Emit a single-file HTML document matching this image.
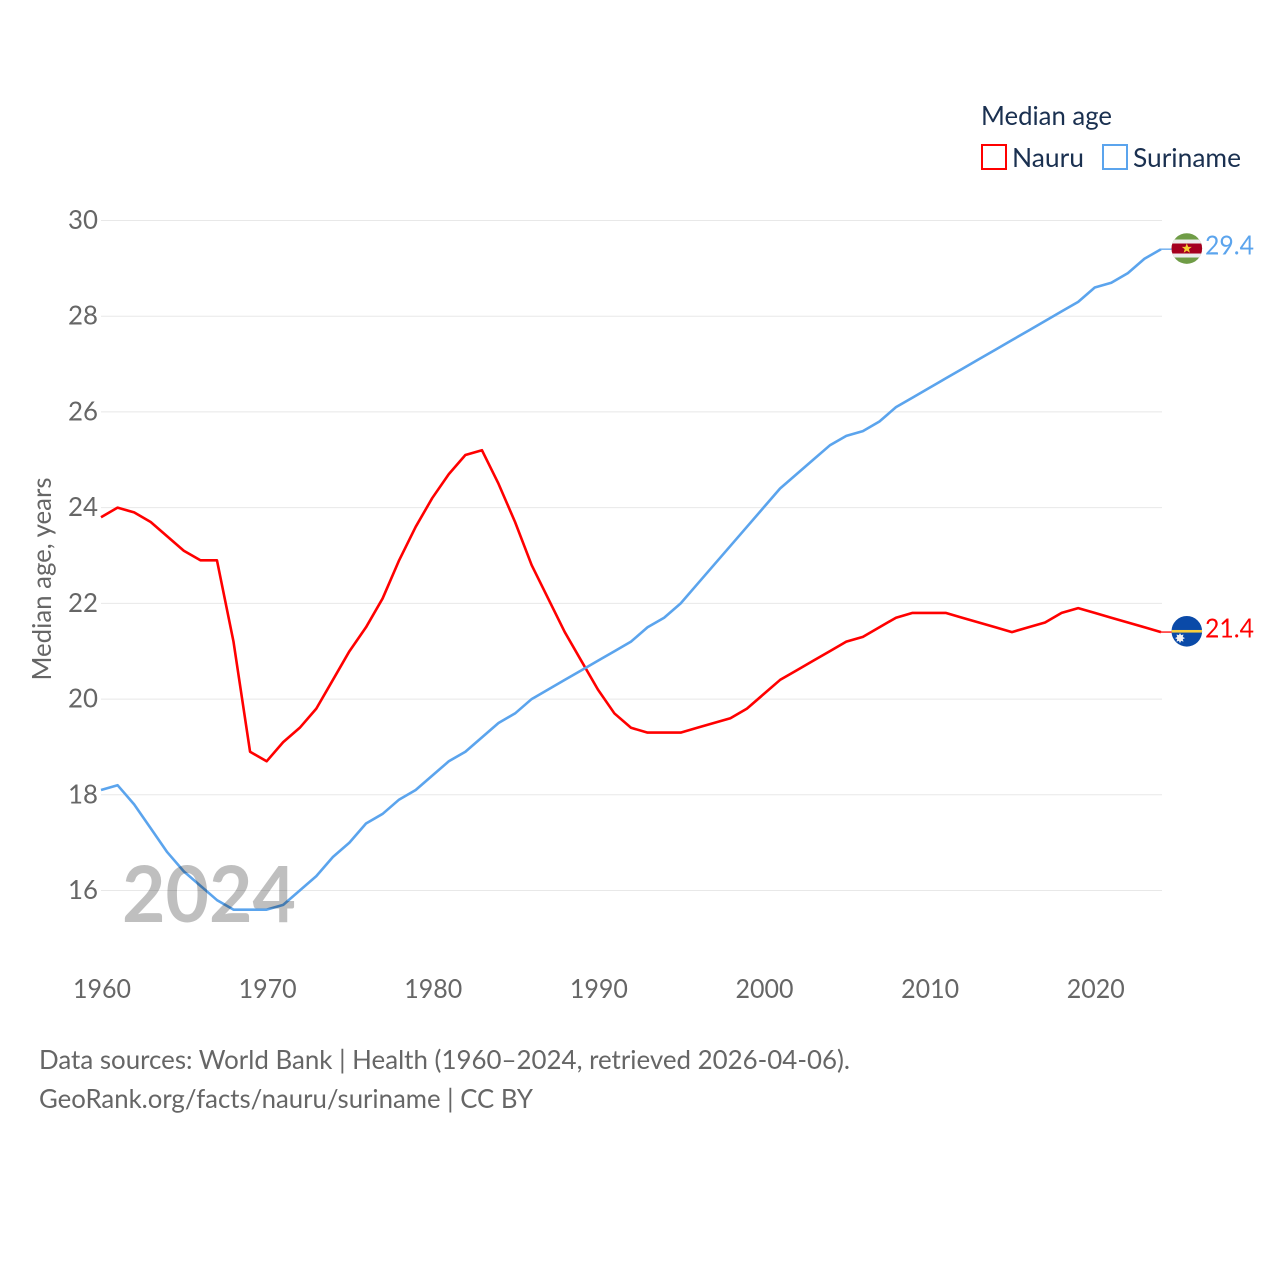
<!DOCTYPE html>
<html lang="en">
<head>
<meta charset="utf-8">
<title>Median age: Nauru and Suriname</title>
<style>
html,body{margin:0;padding:0;background:#fff;width:1280px;height:1280px;overflow:hidden}
svg{display:block}
text{font-family:"Lato","Carlito","Liberation Sans",sans-serif}
</style>
</head>
<body>
<svg id="chart" xmlns="http://www.w3.org/2000/svg" width="1280" height="1280" viewBox="0 0 1280 1280">
  <rect width="1280" height="1280" fill="#fff"/>
  <g id="grid"></g>
  <g id="yticks"></g>
  <g id="xticks"></g>
  <text transform="translate(51,579) rotate(-90)" text-anchor="middle" font-size="26" fill="#666" textLength="203" lengthAdjust="spacingAndGlyphs">Median age, years</text>
  <g id="series"></g>
  <text x="122" y="922" font-size="78" font-weight="700" fill="#000" fill-opacity="0.25" textLength="174" lengthAdjust="spacingAndGlyphs">2024</text>
  <g id="endmarks"></g>

  <g>
    <text x="981" y="125" font-size="26" fill="#1a3050" textLength="131" lengthAdjust="spacingAndGlyphs">Median age</text>
    <g>
      <rect x="982" y="145" width="24" height="24" fill="#fff" stroke="#ff0000" stroke-width="2"/>
      <text x="1012" y="167" font-size="26" fill="#1a3050" textLength="72" lengthAdjust="spacingAndGlyphs">Nauru</text>
    </g>
    <g>
      <rect x="1103" y="145" width="24" height="24" fill="#fff" stroke="#5ba4ed" stroke-width="2"/>
      <text x="1133" y="167" font-size="26" fill="#1a3050" textLength="108" lengthAdjust="spacingAndGlyphs">Suriname</text>
    </g>
  </g>

  <text x="39" y="1069" font-size="26" fill="#666" textLength="811" lengthAdjust="spacingAndGlyphs">Data sources: World Bank | Health (1960–2024, retrieved 2026-04-06).</text>
  <text x="39" y="1108" font-size="26" fill="#666" textLength="494" lengthAdjust="spacingAndGlyphs">GeoRank.org/facts/nauru/suriname | CC BY</text>
</svg>
<script>
const years = [1960,1961,1962,1963,1964,1965,1966,1967,1968,1969,1970,1971,1972,1973,1974,1975,1976,1977,1978,1979,1980,1981,1982,1983,1984,1985,1986,1987,1988,1989,1990,1991,1992,1993,1994,1995,1996,1997,1998,1999,2000,2001,2002,2003,2004,2005,2006,2007,2008,2009,2010,2011,2012,2013,2014,2015,2016,2017,2018,2019,2020,2021,2022,2023,2024];
const nauru = [23.8,24.0,23.9,23.7,23.4,23.1,22.9,22.9,21.2,18.9,18.7,19.1,19.4,19.8,20.4,21.0,21.5,22.1,22.9,23.6,24.2,24.7,25.1,25.2,24.5,23.7,22.8,22.1,21.4,20.8,20.2,19.7,19.4,19.3,19.3,19.3,19.4,19.5,19.6,19.8,20.1,20.4,20.6,20.8,21.0,21.2,21.3,21.5,21.7,21.8,21.8,21.8,21.7,21.6,21.5,21.4,21.5,21.6,21.8,21.9,21.8,21.7,21.6,21.5,21.4];
const suriname = [18.1,18.2,17.8,17.3,16.8,16.4,16.1,15.8,15.6,15.6,15.6,15.7,16.0,16.3,16.7,17.0,17.4,17.6,17.9,18.1,18.4,18.7,18.9,19.2,19.5,19.7,20.0,20.2,20.4,20.6,20.8,21.0,21.2,21.5,21.7,22.0,22.4,22.8,23.2,23.6,24.0,24.4,24.7,25.0,25.3,25.5,25.6,25.8,26.1,26.3,26.5,26.7,26.9,27.1,27.3,27.5,27.7,27.9,28.1,28.3,28.6,28.7,28.9,29.2,29.4];
const yTickValues = [16,18,20,22,24,26,28,30];
const xTickValues = [1960,1970,1980,1990,2000,2010,2020];

const NS = 'http://www.w3.org/2000/svg';
const RED = '#ff0000';
const BLUE = '#5ba4ed';

function xScale(year) { return 101 + (year - 1960) * (1161 - 101) / (2024 - 1960); }
function yScale(value) { return 890.5 - (value - 16) * (890.5 - 220.5) / (30 - 16); }
function make(tag, attrs, parent) {
  const el = document.createElementNS(NS, tag);
  for (const k in attrs) el.setAttribute(k, attrs[k]);
  parent.appendChild(el);
  return el;
}

const gridGroup = document.getElementById('grid');
const yGroup = document.getElementById('yticks');
const xGroup = document.getElementById('xticks');
const seriesGroup = document.getElementById('series');
const endGroup = document.getElementById('endmarks');

yTickValues.forEach(function (v) {
  const line = make('line', {x1: 101, x2: 1162, y1: yScale(v), y2: yScale(v), stroke: '#e8e8e8', 'stroke-width': 1}, gridGroup);
  
  
  const label = make('text', {x: 98, y: yScale(v) + 8.5, 'text-anchor': 'end', 'font-size': 26, fill: '#666', textLength: 30, lengthAdjust: 'spacingAndGlyphs'}, yGroup);
  label.textContent = String(v);
  
  
});

xTickValues.forEach(function (v) {
  const label = make('text', {x: xScale(v) + 1, y: 998, 'text-anchor': 'middle', 'font-size': 26, fill: '#666', textLength: 58, lengthAdjust: 'spacingAndGlyphs'}, xGroup);
  label.textContent = String(v);
  
  
});

function linePath(values) {
  return values.map(function (v, i) {
    return (i ? 'L' : 'M') + xScale(years[i]).toFixed(2) + ' ' + yScale(v).toFixed(2);
  }).join(' ');
}

const nauruLine = make('path', {d: linePath(nauru), fill: 'none', stroke: RED, 'stroke-width': 2.6, 'stroke-linejoin': 'round'}, seriesGroup);


const surinameLine = make('path', {d: linePath(suriname), fill: 'none', stroke: BLUE, 'stroke-width': 2.6, 'stroke-linejoin': 'round'}, seriesGroup);



function endConnector(y, color) {
  const c = make('line', {x1: 1161, x2: 1172, y1: y, y2: y, stroke: color, 'stroke-width': 1.6, 'stroke-opacity': 0.8}, endGroup);
  return c;
}
function endText(y, color, value) {
  const t = make('text', {x: 1205, y: y + 8, 'font-size': 26, fill: color, textLength: 49, lengthAdjust: 'spacingAndGlyphs'}, endGroup);
  t.textContent = value.toFixed(1);
  return t;
}

/* Suriname end marker */
const sLast = suriname[suriname.length - 1];
const sy = yScale(sLast);
const sConn = endConnector(sy, BLUE);


const sFlag = make('g', {transform: 'translate(1186.8,' + (sy - 0.7) + ')'}, endGroup);


const sClip = make('clipPath', {id: 'suriname-clip'}, sFlag);
make('circle', {r: 15.3, cx: 0, cy: 0}, sClip);
const sBands = make('g', {'clip-path': 'url(#suriname-clip)'}, sFlag);
make('rect', {x: -16, y: -16, width: 32, height: 32, fill: '#6f9c46'}, sBands);
make('rect', {x: -16, y: -9, width: 32, height: 18, fill: '#ececec'}, sBands);
make('rect', {x: -16, y: -5, width: 32, height: 10, fill: '#a5001f'}, sBands);
make('polygon', {points: '0,-5 1.4,-1.6 5,-1.6 2.1,0.6 3.1,4.2 0,2.1 -3.1,4.2 -2.1,0.6 -5,-1.6 -1.4,-1.6', fill: '#f5d033'}, sFlag);
const sText = endText(sy - 2.5, BLUE, sLast);



/* Nauru end marker */
const nLast = nauru[nauru.length - 1];
const ny = yScale(nLast);
const nConn = endConnector(ny, RED);


const nFlag = make('g', {transform: 'translate(1186.8,' + (ny - 0.8) + ')'}, endGroup);


make('circle', {r: 15.3, cx: 0, cy: 0, fill: '#0a4aa8'}, nFlag);
make('rect', {x: -15.2, y: -1.3, width: 30.4, height: 2.6, fill: '#f7cf3f'}, nFlag);
make('polygon', {points: '-6.8,1.7 -5.7,3.9 -3.3,3.2 -4,5.7 -1.8,6.8 -4,7.9 -3.3,10.3 -5.7,9.6 -6.8,11.8 -7.9,9.6 -10.3,10.3 -9.6,7.9 -11.8,6.8 -9.6,5.7 -10.3,3.2 -7.9,3.9', fill: '#f2f2f2'}, nFlag);
const nText = endText(ny - 2.5, RED, nLast);


</script>
</body>
</html>
